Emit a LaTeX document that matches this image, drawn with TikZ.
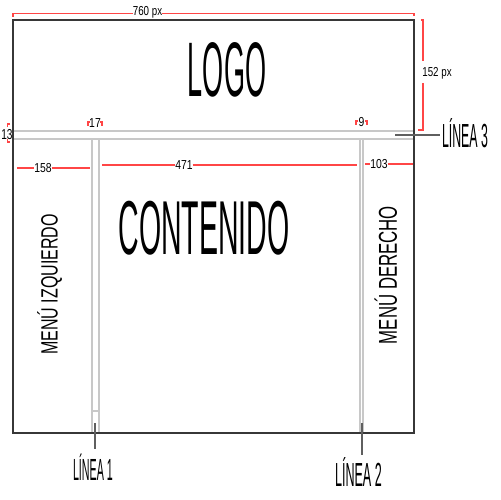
\documentclass[tikz,border=0pt]{standalone}
\usepackage{fontspec}
\setmainfont{Liberation Sans}
\usepackage{graphicx}
\definecolor{redl}{RGB}{255,70,70}
\definecolor{framec}{RGB}{55,55,55}
\definecolor{innerc}{RGB}{200,200,200}
\definecolor{connc}{RGB}{95,95,95}
\newcommand\cond[3]{{\fontsize{#2}{#2}\selectfont\scalebox{#1}[1]{#3}}}
\begin{document}
\begin{tikzpicture}[x=0.02cm,y=-0.02cm,
  framestyle/.style={draw=framec,line width=0.85pt},
  innerline/.style={draw=innerc,line width=0.6pt},
  dim/.style={draw=redl,line width=0.85pt},
  connline/.style={draw=connc,line width=1.7pt},
  txt/.style={inner sep=0pt,outer sep=0pt},
  num/.style={inner sep=0pt,outer sep=0pt,text=black}]
\useasboundingbox (0,0) rectangle (500,500);
% inner lines
\draw[innerline] (13,131) -- (414,131);
\draw[innerline] (13,139) -- (414,139);
\draw[innerline] (92,139) -- (92,433);
\draw[innerline] (99,139) -- (99,433);
\draw[innerline] (92,411) -- (99,411);
\draw[innerline] (360,139) -- (360,433);
\draw[innerline] (363,139) -- (363,433);
% frame
\draw[framestyle] (13,20) rectangle (414,433);
% big texts
\node[txt] (logo) at (227,70) {\cond{0.35}{44pt}{LOGO}};
\node[txt] (cont) at (204,228) {\cond{0.373}{43.5pt}{CONTENIDO}};
\node[txt,rotate=90,anchor=south] (mizq) at (62,284.5) {\cond{0.68}{13.4pt}{MENÚ IZQUIERDO}};
\node[txt,rotate=90,anchor=south] (mder) at (397,275) {\cond{0.65}{14.7pt}{MENÚ DERECHO}};
% line labels
\node[txt,anchor=base west] (lin3) at (442,147) {\cond{0.37}{19pt}{LÍNEA 3}};
\node[txt,anchor=base west] (lin1) at (73,480) {\cond{0.35}{17.4pt}{LÍNEA 1}};
\node[txt,anchor=base west] (lin2) at (335,486) {\cond{0.377}{19pt}{LÍNEA 2}};
\coordinate (c3a) at (395,135);
\coordinate (c3b) at (440,135);
\coordinate (c1a) at (95,423);
\coordinate (c1b) at (95,449);
\coordinate (c2a) at (362,423);
\coordinate (c2b) at (362,455);
\draw[connline] (c3a) -- (c3b);
\draw[connline] (c1a) -- (c1b);
\draw[connline] (c2a) -- (c2b);
% dimension 760 px
\node[num,anchor=base] (d760) at (147.5,16) {\cond{0.75}{7.4pt}{760 px}};
\draw[dim] (13,17) -- (13,13.3) -- (d760.west |- 0,13.3);
\draw[dim] (d760.east |- 0,13.3) -- (414,13.3) -- (414,16);
% dimension 152 px
\node[num,anchor=base] (d152) at (437,77) {\cond{0.75}{7.4pt}{152 px}};
\draw[dim] (421,20) -- (423,20) -- (423,61);
\draw[dim] (423,83) -- (423,130) -- (418,130);
% 13
\node[num] (d13) at (7,135) {\cond{0.7}{8.2pt}{13}};
\draw[dim] (10,124) -- (7.5,124) -- (7.5,127);
\draw[dim] (7.5,139) -- (7.5,142) -- (10,142);
% 17
\node[num] (d17) at (95,123) {\cond{0.8}{7.4pt}{17}};
\draw[dim] (88,125.5) -- (88,122) -- (90,122);
\draw[dim] (100,122) -- (102,122) -- (102,125.5);
% 9
\node[num] (d9) at (361.5,122) {\cond{0.8}{7.4pt}{9}};
\draw[dim] (356,124.5) -- (356,121) -- (358,121);
\draw[dim] (365,121) -- (367,121) -- (367,124.5);
% 158
\node[num] (d158) at (43,168) {\cond{0.8}{7.4pt}{158}};
\draw[dim] (17,168) -- (d158.west);
\draw[dim] (d158.east) -- (90,168);
% 471
\node[num] (d471) at (184,165) {\cond{0.8}{7.4pt}{471}};
\draw[dim] (102,165) -- (d471.west);
\draw[dim] (d471.east) -- (357,165);
% 103
\node[num] (d103) at (379,164) {\cond{0.8}{7.4pt}{103}};
\draw[dim] (365,164) -- (d103.west);
\draw[dim] (d103.east) -- (413,164);
\end{tikzpicture}
\end{document}
